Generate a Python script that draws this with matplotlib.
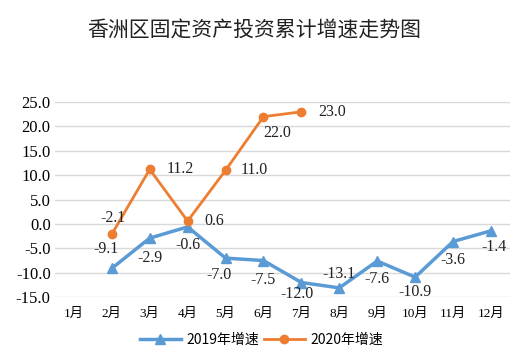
import matplotlib.pyplot as plt
import numpy as np

months = ["1月", "2月", "3月", "4月", "5月", "6月", "7月", "8月", "9月", "10月", "11月", "12月"]
growth_2019 = [None, -9.1, -2.9, -0.6, -7.0, -7.5, -12.0, -13.1, -7.6, -10.9, -3.6, -1.4]
growth_2020 = [None, -2.1, 11.2, 0.6, 11.0, 22.0, 23.0]
yticks = [-15, -10, -5, 0, 5, 10, 15, 20, 25]

blue = "#5B9BD5"
orange = "#ED7D31"
serif = ["Liberation Serif", "Noto Sans CJK SC"]
sans = ["Noto Sans CJK SC", "DejaVu Sans"]

fig = plt.figure(figsize=(5.23, 3.58), dpi=100)
ax = fig.add_axes([0.105, 0.17, 0.87, 0.545])

x = np.arange(len(months))


def as_arr(vals):
    return np.array([np.nan if v is None else v for v in vals], dtype=float)


y19 = as_arr(growth_2019)
y20 = as_arr(growth_2020)
ax.plot(x, y19, color=blue, lw=2.5, marker="^", ms=7, label="2019年增速", zorder=3)
ax.plot(x[:len(y20)], y20, color=orange, lw=2, marker="o", ms=6, label="2020年增速", zorder=3)

# label offsets (points) for each data label
off19 = [None, (-4, 14), (0, -14), (0, -13), (-5, -12), (0, -14), (-3, -8), (0, 10), (0, -13), (0, -11), (0, -13), (2, -12)]
off20 = [None, (1, 12), (22, 0), (19, 0), (21, 0), (10, -12), (22, 0)]
for i, v in enumerate(growth_2019):
    if v is None:
        continue
    ax.annotate(f"{v:.1f}", (x[i], v), xytext=off19[i], textcoords="offset points",
                ha="center", va="center", fontsize=11.5, family=serif, color="#222222")
for i, v in enumerate(growth_2020):
    if v is None:
        continue
    ax.annotate(f"{v:.1f}", (x[i], v), xytext=off20[i], textcoords="offset points",
                ha="center", va="center", fontsize=11.5, family=serif, color="#222222")

ax.set_xlim(-0.5, len(months) - 0.5)
ax.set_ylim(-15, 25)
ax.set_yticks(yticks)
ax.set_yticklabels([f"{t:.1f}" for t in yticks], family=serif, fontsize=12)
ax.set_xticks(x)
ax.set_xticklabels(months, family=serif, fontsize=9.5)
ax.grid(axis="y", color="#D9D9D9", lw=1)
ax.set_axisbelow(True)
for s in ax.spines.values():
    s.set_visible(False)
ax.tick_params(length=0, pad=8)
ax.tick_params(axis="y", pad=3)

fig.text(0.486, 0.915, "香洲区固定资产投资累计增速走势图", ha="center", va="center",
         fontsize=15, family=sans, color="#222222")

leg = fig.legend(loc="center", bbox_to_anchor=(0.5, 0.05), ncol=2, frameon=False,
                 prop={"family": sans, "size": 10}, handlelength=3, columnspacing=0.3,
                 handletextpad=0.4)

fig.savefig("out.png", dpi=100)
